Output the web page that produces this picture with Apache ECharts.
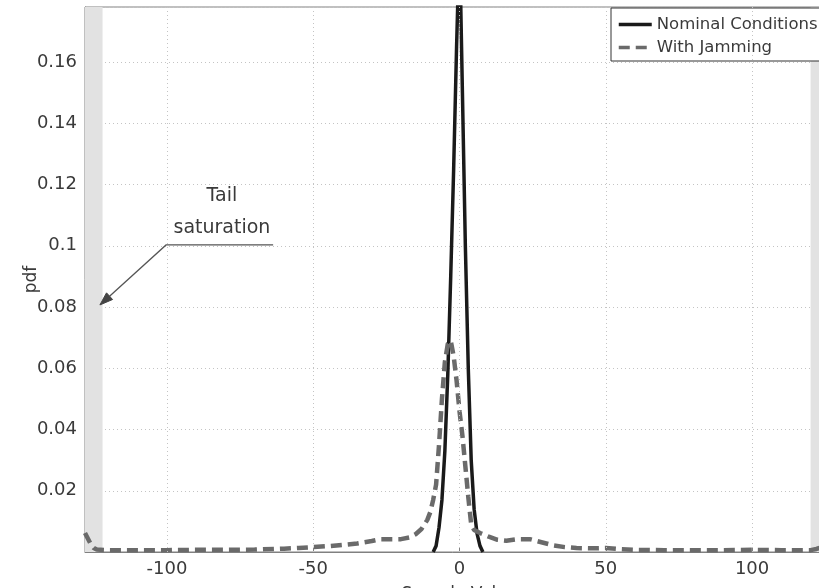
<!DOCTYPE html>
<html>
<head>
<meta charset="utf-8">
<script src="https://cdn.jsdelivr.net/npm/echarts@6/dist/echarts.min.js"></script>
<style>
html,body{margin:0;padding:0;background:#fff;}
#c{width:819px;height:588px;}
</style>
</head>
<body>
<div id="c"></div>
<script>
// ---- data ----
var nominalX = [-9, -8, -7, -6, -5, -4, -3, -2, -1, 0, 1, 2, 3, 4, 5, 6, 7, 8];
var nominalY = [0, 0.002, 0.008, 0.017, 0.033, 0.058, 0.09, 0.125, 0.165, 0.2, 0.15, 0.1, 0.06, 0.03, 0.014, 0.006, 0.002, 0];

var jamX = [-128, -126, -125, -124, -120, -110, -100, -90, -80, -70, -60, -55, -50, -45, -40, -35, -30, -27, -24, -20, -17, -15, -13, -11, -10, -9, -8, -7, -6, -5, -4, -3, -2, -1, 0, 1, 2, 3, 4, 5, 7, 10, 13, 16, 20, 24, 28, 32, 36, 40, 45, 50, 55, 60, 70, 80, 90, 100, 110, 120, 122, 125, 127];
var jamY = [0.0062, 0.0025, 0.0013, 0.0008, 0.0006, 0.0006, 0.0006, 0.0007, 0.0007, 0.0008, 0.0011, 0.0013, 0.0016, 0.0019, 0.0023, 0.0028, 0.0036, 0.0042, 0.0042, 0.0042, 0.0048, 0.0058, 0.0075, 0.0105, 0.013, 0.017, 0.022, 0.035, 0.05, 0.062, 0.068, 0.069, 0.064, 0.056, 0.046, 0.038, 0.028, 0.018, 0.009, 0.0072, 0.0062, 0.005, 0.004, 0.0037, 0.0042, 0.0042, 0.0032, 0.0022, 0.0016, 0.0013, 0.0012, 0.0013, 0.0009, 0.0007, 0.0006, 0.0006, 0.0006, 0.0007, 0.0006, 0.0006, 0.001, 0.002, 0.006];

var seriesNames = ['Nominal Conditions', 'With Jamming'];
var xTicks = [-100, -50, 0, 50, 100];
var yTicks = [0.02, 0.04, 0.06, 0.08, 0.1, 0.12, 0.14, 0.16];
var saturationBands = [[-128, -122], [120, 128]];

// annotation anchor points (data units): text, line end, elbow, arrow tip
var annotText = ['Tail', 'saturation'];
var annotTextPos = [[-81.2, 0.1163], [-81.2, 0.1058]];
var annotLineEnd = [-63.7, 0.1003];
var annotElbow = [-100.3, 0.1003];
var annotTip = [-122.9, 0.0807];

function pairs(xs, ys) { return xs.map(function (x, i) { return [x, ys[i]]; }); }

var chart = echarts.init(document.getElementById('c'), null, { renderer: 'canvas' });
var font = '"DejaVu Sans", Verdana, sans-serif';
var txt = '#3a3a3a';
var gridDot = { color: '#c4c4c4', type: [1, 3], width: 1 };

var option = {
  animation: false,
  backgroundColor: '#fff',
  textStyle: { fontFamily: font },
  grid: { left: 85, top: 7, width: 749, height: 545, containLabel: false, outerBoundsMode: 'none',
          show: true, borderColor: '#808080', borderWidth: 1, backgroundColor: 'transparent' },
  legend: {
    left: 611, top: 8, orient: 'vertical',
    padding: [8, 60, 5, 6],
    itemWidth: 33, itemHeight: 14, itemGap: 6,
    borderColor: '#333', borderWidth: 1, backgroundColor: '#fff',
    itemStyle: { opacity: 0, borderWidth: 0 },
    lineStyle: { width: 3.5 },
    textStyle: { fontSize: 16.5, color: txt, fontFamily: font },
    data: seriesNames
  },
  xAxis: {
    type: 'value', min: -128, max: 128,
    name: 'Sample Value', nameLocation: 'middle', nameGap: 34, nameMoveOverlap: false,
    nameTextStyle: { fontSize: 17, color: txt },
    axisLine: { show: true, onZero: false, lineStyle: { color: '#808080' } },
    axisTick: { show: true, inside: true, length: 5, customValues: xTicks, lineStyle: { color: '#808080' } },
    axisLabel: { fontSize: 18, color: txt, margin: 8, customValues: xTicks },
    splitLine: { show: false }
  },
  yAxis: {
    type: 'value', min: 0, max: 0.178, interval: 0.02,
    name: 'pdf', nameLocation: 'middle', nameGap: 45, nameRotate: 90, nameMoveOverlap: false,
    nameTextStyle: { fontSize: 17, color: txt },
    axisLine: { show: true, onZero: false, lineStyle: { color: '#808080' } },
    axisTick: { show: true, inside: true, length: 5, lineStyle: { color: '#808080' } },
    axisLabel: { fontSize: 18, color: txt, margin: 8, showMinLabel: false, showMaxLabel: false,
      formatter: function (v) {
        for (var i = 0; i < yTicks.length; i++) if (Math.abs(yTicks[i] - v) < 1e-9) return String(yTicks[i]);
        return '';
      } },
    splitLine: { show: true, lineStyle: gridDot }
  },
  series: [
    {
      name: 'background', type: 'line', data: [], z: 1, silent: true,
      markArea: {
        silent: true,
        itemStyle: { color: '#e2e2e2' },
        data: saturationBands.map(function (b) { return [{ xAxis: b[0] }, { xAxis: b[1] }]; })
      },
      markLine: {
        silent: true, symbol: ['none', 'none'], label: { show: false },
        lineStyle: gridDot,
        data: xTicks.map(function (v) { return { xAxis: v }; })
      }
    },
    {
      name: seriesNames[0], type: 'line', data: pairs(nominalX, nominalY),
      symbol: 'none', clip: true, z: 3,
      lineStyle: { color: '#1a1a1a', width: 3.5 },
      itemStyle: { color: '#1a1a1a' }
    },
    {
      name: seriesNames[1], type: 'line', data: pairs(jamX, jamY),
      symbol: 'none', clip: true, z: 4,
      lineStyle: { color: '#6a6a6a', width: 4.5, type: [11, 6] },
      itemStyle: { color: '#6a6a6a' }
    }
  ]
};
chart.setOption(option);

function px(p) { return chart.convertToPixel({ gridIndex: 0 }, p); }
var e = px(annotLineEnd), k = px(annotElbow), t = px(annotTip);
var dx = t[0] - k[0], dy = t[1] - k[1], L = Math.sqrt(dx * dx + dy * dy);
var ux = dx / L, uy = dy / L, hl = 13, hw = 4.5;
var bx = t[0] - ux * hl, by = t[1] - uy * hl;
var graphics = [
  { type: 'polyline', z: 10, shape: { points: [e, k, [bx, by]] }, style: { stroke: '#555', lineWidth: 1.3, fill: null } },
  { type: 'polygon', z: 10, shape: { points: [t, [bx - uy * hw, by + ux * hw], [bx + uy * hw, by - ux * hw]] }, style: { fill: '#444', stroke: '#444' } }
];
annotText.forEach(function (s, i) {
  var p = px(annotTextPos[i]);
  graphics.push({ type: 'text', z: 10, x: p[0], y: p[1], style: { text: s, fontSize: 19, fill: txt, fontFamily: font, align: 'center', verticalAlign: 'middle' } });
});
chart.setOption({ graphic: graphics });
</script>
</body>
</html>
